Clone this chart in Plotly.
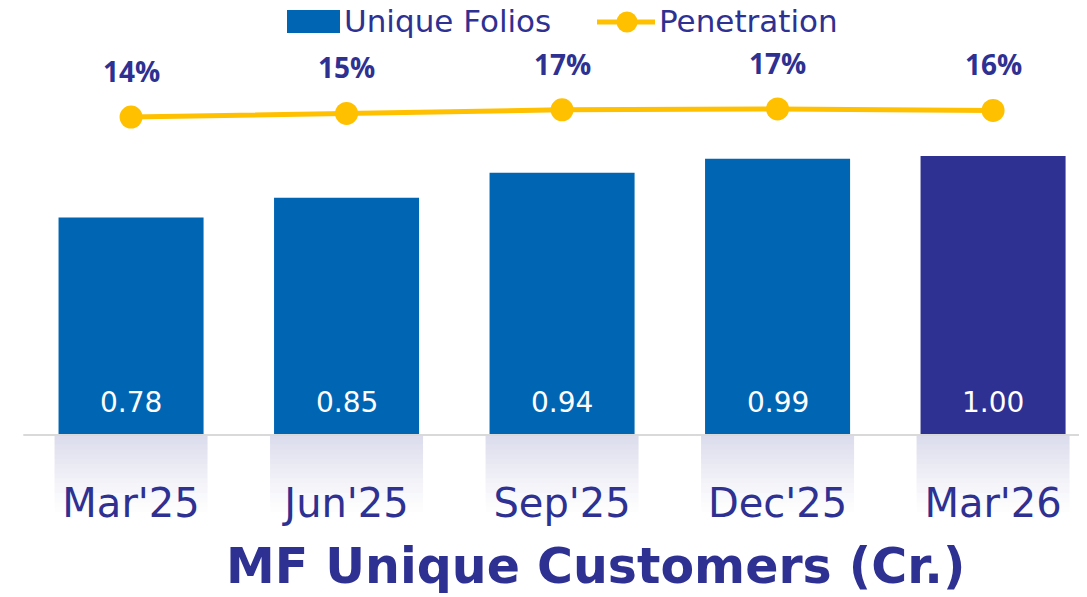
import plotly.graph_objects as go

# data
quarters = ["Mar'25", "Jun'25", "Sep'25", "Dec'25", "Mar'26"]
folios = [0.78, 0.85, 0.94, 0.99, 1.00]
penetration = [14.2, 15.4, 16.6, 16.9, 16.4]
series_names = ["Unique Folios", "Penetration"]

BLUE = "#0066B3"
NAVY = "#2E3192"
YELLOW = "#FFC000"
FONT = "DejaVu Sans, sans-serif"
FONT_B = "Open Sans, sans-serif"

W, H = 1087, 597
M_T, M_B = 8, 123
Y_RANGE = [-0.1685, 1.5018]
Y2_RANGE = [-107.47, 47.87]

# the page body adds an 8px offset; helpers turn screen pixels into paper coords
def sx(px):
    return (px - 8) / W

def sy(py):
    return (H - M_B - (py - 8)) / (H - M_T - M_B)

bar_colors = [BLUE] * (len(quarters) - 1) + [NAVY]

fig = go.Figure()

fig.add_trace(go.Bar(
    x=quarters, y=folios, name=series_names[0],
    marker=dict(color=bar_colors, line=dict(width=0)),
    width=0.673,
))

fig.add_trace(go.Scatter(
    x=quarters, y=penetration, name=series_names[1], yaxis="y2",
    mode="lines+markers",
    line=dict(color=YELLOW, width=5),
    marker=dict(color=YELLOW, size=23),
    cliponaxis=False,
))

# value labels near the bottom of each bar
for q, v in zip(quarters, folios):
    fig.add_annotation(x=q, y=0, text=f"{v:.2f}", showarrow=False, yshift=32,
                       font=dict(size=28, color="white", family=FONT))

# percentage labels above the line
for q, p in zip(quarters, penetration):
    fig.add_annotation(x=q, y=p, yref="y2", text=f"<b>{round(p)}%</b>",
                       showarrow=False, yshift=46,
                       font=dict(size=28, color=NAVY, family=FONT_B))

# faded reflection under each bar
base = -Y_RANGE[0] / (Y_RANGE[1] - Y_RANGE[0])
depth = 0.165
steps = 16
for i, q in enumerate(quarters):
    for k in range(steps):
        fig.add_shape(type="rect", xref="x", yref="paper",
                      x0=i - 0.355, x1=i + 0.355,
                      y0=base - depth * k / steps, y1=base - depth * (k + 1) / steps,
                      fillcolor=NAVY, opacity=0.17 * (1 - k / steps) ** 1.2,
                      line=dict(width=0), layer="below")

# baseline
fig.add_shape(type="line", xref="x", yref="y", x0=-0.5, x1=4.6, y0=0, y1=0,
              line=dict(color="#D9D9D9", width=2), layer="above")

# legend drawn by hand to get the wide swatches
fig.add_shape(type="rect", xref="paper", yref="paper",
              x0=sx(287), x1=sx(340), y0=sy(33), y1=sy(10),
              fillcolor=BLUE, line=dict(width=0))
fig.add_shape(type="line", xref="paper", yref="paper",
              x0=sx(597), x1=sx(655), y0=sy(22), y1=sy(22),
              line=dict(color=YELLOW, width=5))
fig.add_shape(type="circle", xref="paper", yref="paper",
              x0=sx(616.5), x1=sx(637.5), y0=sy(32.5), y1=sy(11.5),
              fillcolor=YELLOW, line=dict(width=0))
for name, left in zip(series_names, [342, 657]):
    fig.add_annotation(xref="paper", yref="paper", x=sx(left), y=sy(21),
                       xanchor="left", yanchor="middle", text=name,
                       showarrow=False, font=dict(size=31, color=NAVY, family=FONT))

fig.add_annotation(xref="paper", yref="paper", x=sx(595), y=sy(566), yanchor="middle",
                   text="<b>MF Unique Customers (Cr.)</b>", showarrow=False,
                   font=dict(size=49, color=NAVY, family=FONT))

fig.update_layout(
    width=W, height=H,
    margin=dict(l=0, r=0, t=M_T, b=M_B),
    plot_bgcolor="white", paper_bgcolor="white",
    font=dict(family=FONT, color=NAVY),
    showlegend=False,
    xaxis=dict(range=[-0.571, 4.473], showgrid=False, zeroline=False,
               showline=False, ticks="", ticklabelstandoff=-6,
               tickfont=dict(size=40, color=NAVY, family=FONT)),
    yaxis=dict(range=Y_RANGE, showgrid=False, zeroline=False,
               showticklabels=False, showline=False),
    yaxis2=dict(range=Y2_RANGE, overlaying="y", showgrid=False,
                zeroline=False, showticklabels=False, showline=False),
)

fig.write_html("out.html")
